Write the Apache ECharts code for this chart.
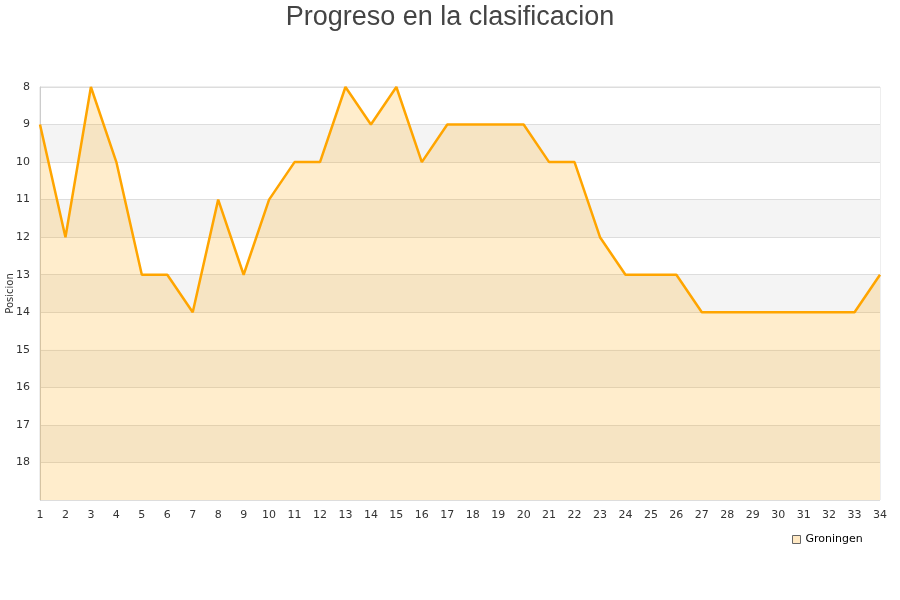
<!DOCTYPE html>
<html><head><meta charset="utf-8">
<script src="https://cdn.jsdelivr.net/npm/echarts@6/dist/echarts.min.js"></script>
<style>html,body{margin:0;padding:0;background:#fff}#c{width:900px;height:600px}</style>
</head><body><div id="c"></div>
<script>
const jornadas = [1,2,3,4,5,6,7,8,9,10,11,12,13,14,15,16,17,18,19,20,21,22,23,24,25,26,27,28,29,30,31,32,33,34];
const posiciones = [9,12,8,10,13,13,14,11,13,11,10,10,8,9,8,10,9,9,9,9,10,10,12,13,13,13,14,14,14,14,14,14,14,13];
const equipo = 'Groningen';
const chart = echarts.init(document.getElementById('c'));
chart.setOption({
  animation:false,
  title:{text:'Progreso en la clasificacion',left:'center',top:-1,textStyle:{fontSize:27,fontWeight:'normal',color:'#444',fontFamily:'Liberation Sans, Arial, sans-serif'}},
  grid:{left:40,right:20,top:87,bottom:100,containLabel:false,outerBoundsMode:'none',show:true,borderColor:'#ddd',borderWidth:1,backgroundColor:'transparent'},
  legend:{data:[{name:equipo,icon:'rect',itemStyle:{color:'#ffe9c4',borderColor:'#666',borderWidth:1}}],left:787,top:529,itemWidth:8,itemHeight:8,itemGap:5,
    textStyle:{fontSize:11,color:'#000',fontFamily:'DejaVu Sans'}},
  xAxis:{type:'value',min:1,max:34,interval:1,
    axisLine:{show:false},axisTick:{show:false},splitLine:{show:false},
    axisLabel:{color:'#333',fontSize:11,margin:10,fontFamily:'DejaVu Sans'}},
  yAxis:{type:'value',inverse:true,min:8,max:19,interval:1,name:'Posicion',nameLocation:'middle',nameGap:25,nameMoveOverlap:false,
    nameTextStyle:{fontSize:10,color:'#333',fontFamily:'DejaVu Sans'},
    axisLine:{show:true,lineStyle:{color:'#ccc'}},axisTick:{show:false},
    axisLabel:{color:'#333',fontSize:11,margin:10,fontFamily:'DejaVu Sans',formatter:v=>v===19?'':String(v)},
    splitLine:{show:true,lineStyle:{color:'#ddd'}},
    splitArea:{show:true,areaStyle:{color:['#ffffff','#f4f4f4']}}},
  series:[{name:equipo,type:'line',data:jornadas.map((j,i)=>[j,posiciones[i]]),
    symbol:'none',lineStyle:{color:'#ffa500',width:2.5},itemStyle:{color:'#ffe9c4',borderColor:'#ffa500'},
    areaStyle:{color:'rgba(255,165,0,0.2)',opacity:1,origin:'end'}}]
});
</script></body></html>
